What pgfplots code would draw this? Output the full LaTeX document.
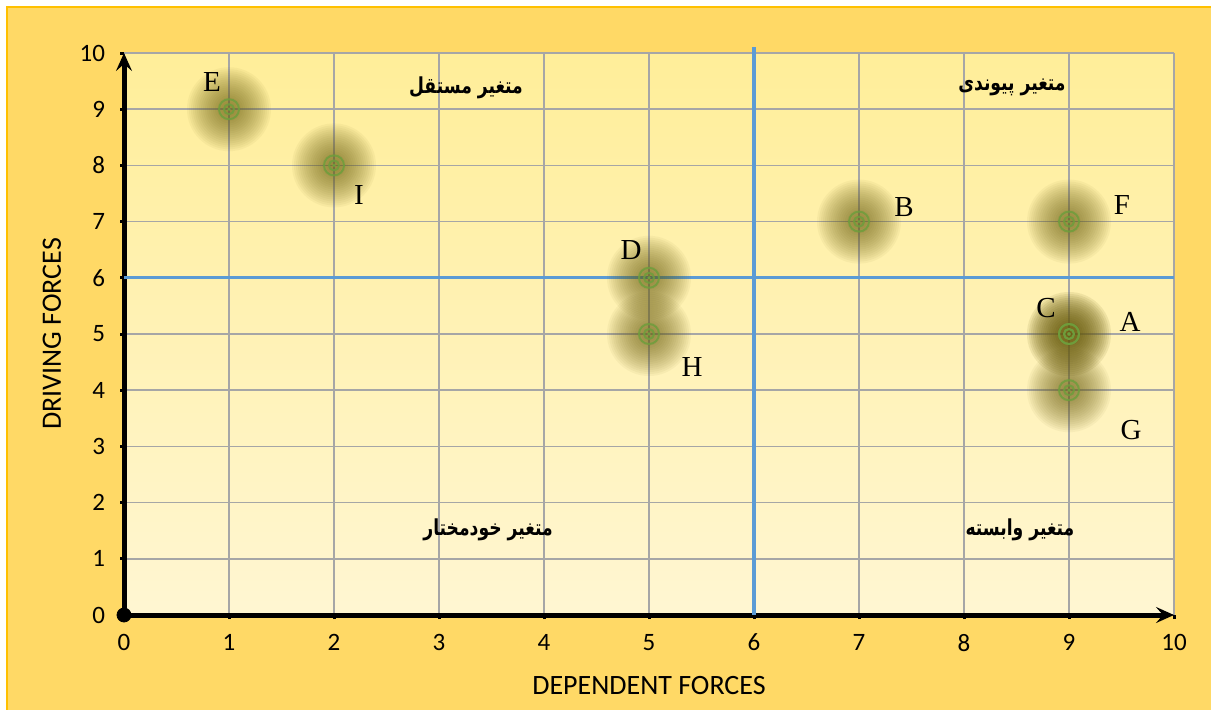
\documentclass[border=0pt]{standalone}
\usepackage{fontspec}
\setmainfont{Liberation Serif}
\newfontfamily\calib{Carlito}
\newfontfamily\arabicfont[Script=Arabic]{DejaVu Sans}
\TeXXeTstate=1
\usepackage{graphicx}
\usepackage{pgfplots}
\usepackage{pgfplotstable}
\pgfplotsset{compat=1.18}
\usetikzlibrary{arrows.meta}
\definecolor{outerbg}{HTML}{FFD966}
\definecolor{outerborder}{HTML}{FFC000}
\definecolor{bluel}{HTML}{5B9BD5}
\definecolor{gridc}{HTML}{A6A6A6}
\definecolor{ringc}{HTML}{6E9E3C}
\definecolor{glowc}{HTML}{6B5E10}
\definecolor{pltop}{HTML}{FFEE99}
\definecolor{plbot}{HTML}{FFF6D2}
\pgfplotstableread{
x y lab dx dy
9 5 A 30.5 6
7 7 B 22.5 7.5
9 5 C -11.5 13
5 6 D -9 14
1 9 E -8.5 13.5
9 7 F 26.5 8.5
9 4 G 31 -20
5 5 H 21.5 -16.5
2 8 I 12.5 -15
}\pts
\newcommand{\fa}[1]{\scalebox{0.78}[1]{\arabicfont\bfseries\fontsize{11}{11}\selectfont\beginR #1\endR}}
\begin{document}
\begin{tikzpicture}
\fill[white] (0,0) rectangle (605.5pt,354.5pt);
\draw[outerborder, fill=outerbg, line width=1pt] (3.5pt,-3pt) rectangle (610pt,351pt);
\begin{axis}[
  at={(62pt,47pt)}, anchor=south west, scale only axis,
  width=525pt, height=281pt,
  xmin=0, xmax=10, ymin=0, ymax=10,
  xtick={0,...,10}, ytick={0,...,10},
  grid=major, grid style={gridc, line width=0.75pt},
  axis lines=left,
  axis line style={line width=2.5pt, black, -{Stealth[length=9pt,width=8pt,inset=3.5pt]}},
  tick align=outside, major tick length=2pt,
  tick style={black, line width=1.5pt},
  ticklabel style={font=\calib\fontsize{12.5}{13}\selectfont},
  /pgf/number format/assume math mode=true,
  xticklabel style={yshift=-4pt},
  yticklabel style={xshift=-4pt},
  xlabel={DEPENDENT FORCES}, ylabel={DRIVING FORCES},
  label style={font=\calib\fontsize{14}{14}\selectfont},
  xlabel style={at={(axis description cs:0.5,-0.1246)}, anchor=center},
  ylabel style={at={(axis description cs:-0.0686,0.5)}, anchor=center},
  clip=false,
  axis background/.style={shade, top color=pltop, bottom color=plbot},
]
% quadrant dividers
\addplot[bluel, line width=1.6pt] coordinates {(6,0) (6,10.1)};
\addplot[bluel, line width=1.6pt] coordinates {(0,6) (10,6)};
% glow
\pgfplotsinvokeforeach{2,3,...,21}{
  \addplot[glowc, only marks, mark=*, mark size=#1pt, mark options={draw opacity=0, fill=glowc, fill opacity=0.05, line width=0pt}] table[x=x,y=y] {\pts};
}
% rings
\addplot[ringc, only marks, mark=o, mark size=5pt, mark options={draw=ringc, line width=1pt, draw opacity=0.85}] table[x=x,y=y] {\pts};
\addplot[ringc, only marks, mark=o, mark size=2.5pt, mark options={draw=ringc, line width=1pt, draw opacity=0.85}] table[x=x,y=y] {\pts};
\addplot[ringc, only marks, mark=*, mark size=0.9pt, mark options={draw opacity=0, fill=ringc}] table[x=x,y=y] {\pts};
% letters
\addplot[draw=none, mark=none, nodes near coords, point meta=explicit symbolic,
  visualization depends on={\thisrow{dx}\as\dx},
  visualization depends on={\thisrow{dy}\as\dy},
  nodes near coords style={anchor=center, xshift=\dx pt, yshift=\dy pt, font=\fontsize{14.5}{14.5}\selectfont, text=black}]
  table[x=x,y=y,meta=lab] {\pts};
% origin dot
\addplot[only marks, mark=*, mark size=3.5pt, black] coordinates {(0,0)};
% quadrant names
\node at (axis cs:3.257,9.38) {\fa{متغیر مستقل}};
\node at (axis cs:8.457,9.38) {\fa{متغیر پیوندی}};
\node at (axis cs:3.467,1.51) {\fa{متغیر خودمختار}};
\node at (axis cs:8.533,1.51) {\fa{متغیر وابسته}};
\end{axis}
\pgfresetboundingbox
\useasboundingbox (0,0) rectangle (605.5pt,354.5pt);
\end{tikzpicture}
\end{document}
